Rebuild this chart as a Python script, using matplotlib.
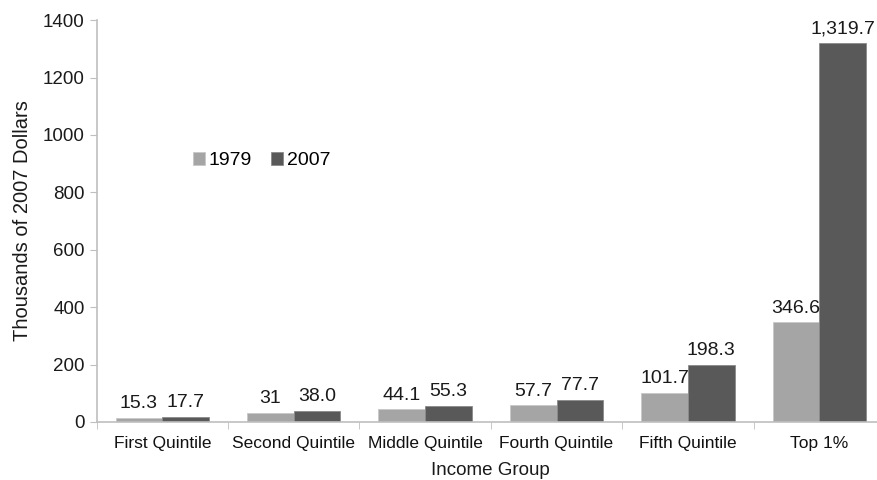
import numpy as np
import matplotlib.pyplot as plt

plt.rcParams['font.family'] = ['Liberation Sans', 'DejaVu Sans']

groups = ['First Quintile', 'Second Quintile', 'Middle Quintile',
          'Fourth Quintile', 'Fifth Quintile', 'Top 1%']
inc_1979 = [15.3, 31.0, 44.1, 57.7, 101.7, 346.6]
inc_2007 = [17.7, 38.0, 55.3, 77.7, 198.3, 1319.7]
lab_1979 = ['15.3', '31', '44.1', '57.7', '101.7', '346.6']
lab_2007 = ['17.7', '38.0', '55.3', '77.7', '198.3', '1,319.7']

fig = plt.figure(figsize=(8.78, 4.80), dpi=100)
ax = fig.add_axes([0.110, 0.121, 0.898, 0.837])

x = np.arange(len(groups))
w = 0.355
b1 = ax.bar(x - w / 2, inc_1979, w, color='#a5a5a5', edgecolor='#c8c8c8', linewidth=0.6, label='1979')
b2 = ax.bar(x + w / 2, inc_2007, w, color='#595959', edgecolor='#8a8a8a', linewidth=0.6, label='2007')

for bars, labs in ((b1, lab_1979), (b2, lab_2007)):
    for r, t in zip(bars, labs):
        ax.annotate(t, (r.get_x() + r.get_width() / 2, r.get_height()),
                    xytext=(0, 4), textcoords='offset points',
                    ha='center', va='bottom', fontsize=14, color='#1a1a1a')

ax.set_xlim(-0.5, len(groups) - 0.5)
ax.set_ylim(0, 1400)
ax.set_yticks(range(0, 1401, 200))
ax.tick_params(axis='y', labelsize=13.5, colors='#bfbfbf', labelcolor='#1a1a1a', length=5, direction='out')

# category labels centred, tick marks at the boundaries
ax.set_xticks(x)
ax.set_xticklabels(groups, fontsize=12.5, color='#111111')
ax.tick_params(axis='x', length=0, pad=10)
ax.set_xticks(np.arange(len(groups) + 1) - 0.5, minor=True)
ax.tick_params(axis='x', which='minor', length=5, colors='#bfbfbf', direction='out')

for s in ('top', 'right'):
    ax.spines[s].set_visible(False)
for s in ('left', 'bottom'):
    ax.spines[s].set_color('#bfbfbf')
    ax.spines[s].set_linewidth(1.2)

ax.set_ylabel('Thousands of 2007 Dollars', fontsize=14.5, color='#1a1a1a', labelpad=8)
ax.set_xlabel('Income Group', fontsize=13.5, color='#1a1a1a', labelpad=8)

ax.legend(loc='upper left', bbox_to_anchor=(0.1, 0.715), ncol=2, frameon=False,
          fontsize=14, handlelength=0.6, handleheight=0.6, handletextpad=0.2,
          columnspacing=1.0)

fig.savefig('out.png', dpi=100)
